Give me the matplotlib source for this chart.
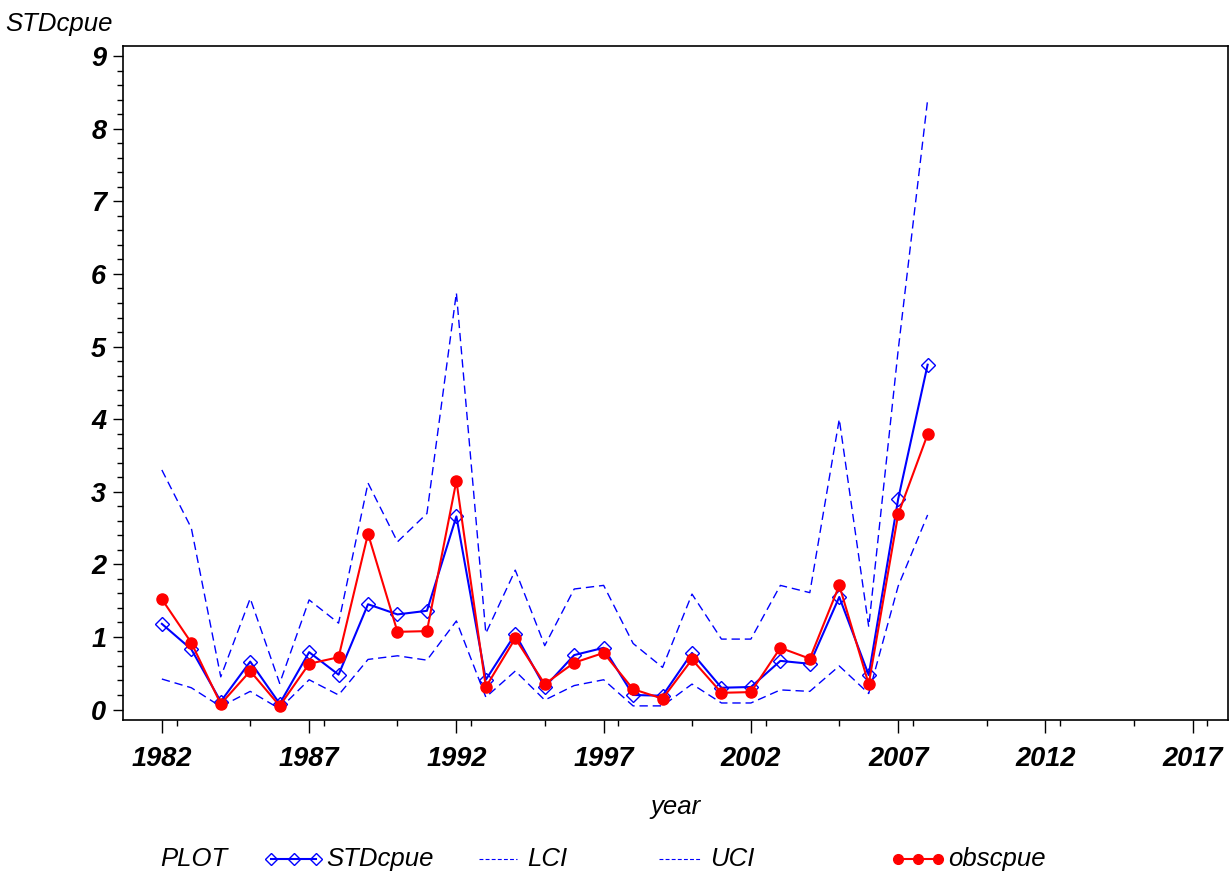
import matplotlib
matplotlib.use("Agg")
import matplotlib.pyplot as plt
from matplotlib.lines import Line2D
from matplotlib.ticker import MultipleLocator

years = list(range(1982, 2009))
std_cpue = [1.18, 0.83, 0.11, 0.66, 0.08, 0.79, 0.48, 1.45, 1.31, 1.36, 2.66,
            0.41, 1.04, 0.31, 0.75, 0.85, 0.20, 0.19, 0.78, 0.30, 0.31, 0.67,
            0.63, 1.55, 0.475, 2.90, 4.75]
obs_cpue = [1.52, 0.92, 0.076, 0.53, 0.05, 0.63, 0.72, 2.42, 1.07, 1.08, 3.15,
            0.31, 0.98, 0.35, 0.645, 0.78, 0.28, 0.15, 0.69, 0.23, 0.24, 0.85,
            0.70, 1.71, 0.35, 2.69, 3.79]
lci = [0.42, 0.30, 0.04, 0.25, 0.01, 0.41, 0.20, 0.69, 0.74, 0.68, 1.22,
       0.17, 0.53, 0.13, 0.33, 0.41, 0.05, 0.05, 0.35, 0.09, 0.09, 0.27,
       0.25, 0.60, 0.22, 1.70, 2.68]
uci = [3.30, 2.50, 0.45, 1.53, 0.36, 1.51, 1.19, 3.12, 2.31, 2.70, 5.74,
       1.05, 1.92, 0.88, 1.66, 1.71, 0.91, 0.58, 1.59, 0.97, 0.97, 1.71,
       1.61, 4.00, 1.14, 4.95, 8.40]
x_ticks = [1982, 1987, 1992, 1997, 2002, 2007, 2012, 2017]
y_ticks = list(range(0, 10))

plt.rcParams['font.family'] = ['Liberation Sans', 'DejaVu Sans']
BLUE = '#0000ff'
RED = '#ff0000'

fig = plt.figure(figsize=(12.31, 8.75), dpi=100)
ax = fig.add_axes([0.0999, 0.1771, 0.8977, 0.7703])

dash = (0, (6, 3.5))
ax.plot(years, lci, color=BLUE, lw=1.0, linestyle=dash)
ax.plot(years, uci, color=BLUE, lw=1.0, linestyle=dash)
ax.plot(years, std_cpue, color=BLUE, lw=1.5, marker='D', markersize=7,
        markerfacecolor='none', markeredgecolor=BLUE, markeredgewidth=1.0)
ax.plot(years, obs_cpue, color=RED, lw=1.5, marker='o', markersize=8,
        markerfacecolor=RED, markeredgecolor=RED)

ax.set_xlim(1980.68, 2018.2)
ax.set_ylim(-0.145, 9.14)
ax.set_xticks(x_ticks)
ax.set_yticks(y_ticks)
ax.xaxis.set_minor_locator(MultipleLocator(2.5))
ax.yaxis.set_minor_locator(MultipleLocator(0.2))
ax.tick_params(axis='x', which='major', length=9, width=1, pad=10)
ax.tick_params(axis='x', which='minor', length=4, width=1)
ax.tick_params(axis='y', which='major', length=7, width=1, pad=5)
ax.tick_params(axis='y', which='minor', length=4, width=1)
for lab in ax.get_xticklabels() + ax.get_yticklabels():
    lab.set_fontsize(19.5)
    lab.set_fontstyle('italic')
    lab.set_fontweight('bold')
for sp in ax.spines.values():
    sp.set_linewidth(1.2)

ax.set_xlabel('year', fontsize=18.5, fontstyle='italic', labelpad=16)
fig.text(0.004, 0.973, 'STDcpue', fontsize=18.5, fontstyle='italic',
         ha='left', va='center')

# Legend row along the bottom
ly = 1 - 859 / 875
W = 1231
fig.text(160 / W, ly, 'PLOT', fontsize=18.5, fontstyle='italic', va='center')

def legend_entry(x0, x1, label, **kw):
    fig.add_artist(Line2D([x0 / W, (x0 + x1) / 2 / W, x1 / W], [ly, ly, ly],
                          transform=fig.transFigure, **kw))
    fig.text((x1 + 10) / W, ly, label, fontsize=18.5, fontstyle='italic',
             va='center')

legend_entry(271, 316, 'STDcpue', color=BLUE, lw=1.5, marker='D',
             markersize=6, markerfacecolor='none', markeredgecolor=BLUE)
legend_entry(479, 517, 'LCI', color=BLUE, lw=0.8, linestyle=(0, (3.5, 2)))
legend_entry(659, 700, 'UCI', color=BLUE, lw=0.8, linestyle=(0, (3.5, 2)))
legend_entry(898, 938, 'obscpue', color=RED, lw=1.5, marker='o',
             markersize=7, markerfacecolor=RED, markeredgecolor=RED)

fig.savefig('out.png', dpi=100)
